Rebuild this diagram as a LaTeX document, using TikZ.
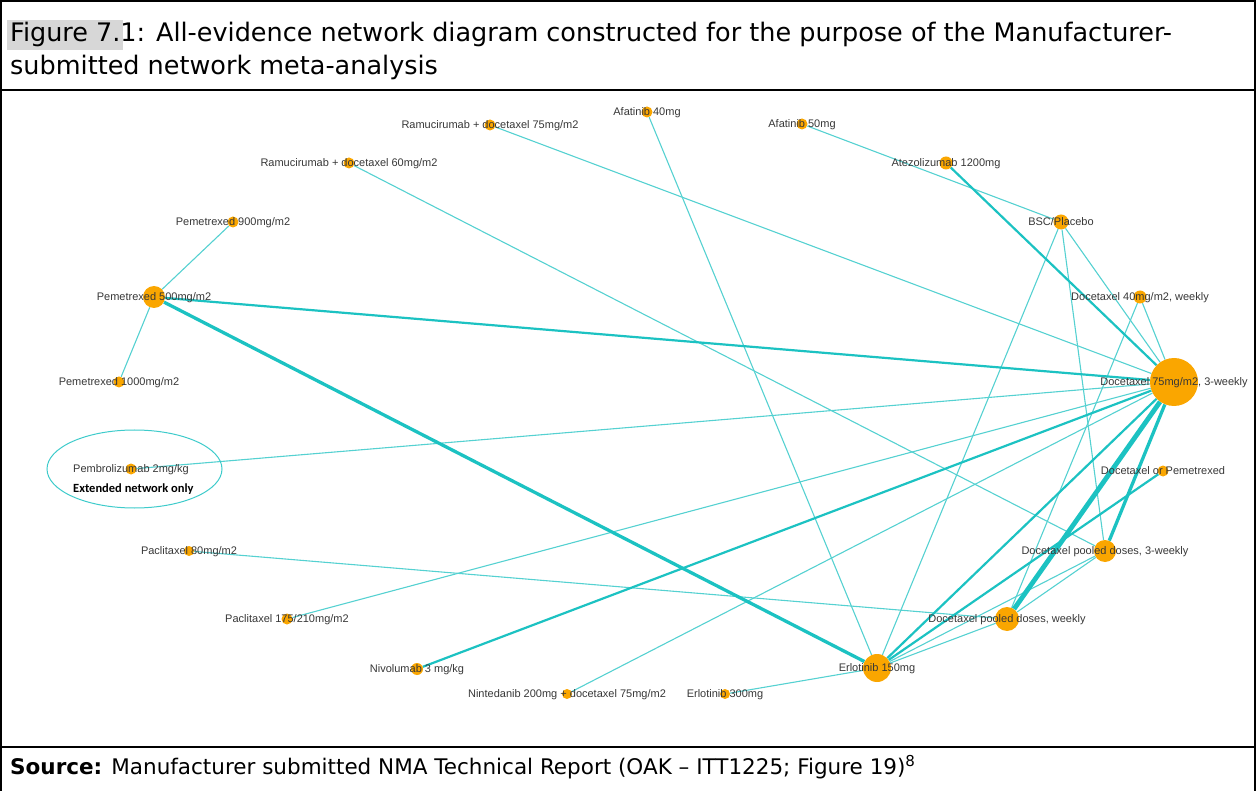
\documentclass[tikz,border=0pt]{standalone}
\usepackage{fontspec}
\setmainfont{DejaVu Sans}
\newfontfamily\arialfont{Liberation Sans}
\newfontfamily\calibrifont{Carlito}
\usetikzlibrary{backgrounds,shapes.geometric}

\definecolor{edgecol}{RGB}{28,194,194}
\definecolor{nodecol}{RGB}{250,166,0}
\definecolor{txtcol}{RGB}{55,55,55}
\definecolor{hlgray}{RGB}{215,215,215}

\begin{document}
\begin{tikzpicture}[x=1pt,y=-1pt,
  trt/.style={circle,fill=nodecol,inner sep=0pt},
  lbl/.style={font=\arialfont\fontsize{11}{13}\selectfont,text=txtcol,inner sep=0pt,text height=8pt,text depth=1pt},
  e1/.style={draw=edgecol!75,line width=1.1pt},
  e2/.style={draw=edgecol,line width=2.2pt},
  e3/.style={draw=edgecol,line width=3.3pt},
  e4/.style={draw=edgecol,line width=4.8pt},
  capt/.style={anchor=base west,inner sep=0pt,font=\fontsize{25.5}{33}\selectfont}]
\useasboundingbox (0,0) rectangle (1256,791);

% table frame
\draw[line width=2pt] (1,791) -- (1,1) -- (1255,1) -- (1255,791);
\draw[line width=2pt] (1,90) -- (1255,90);
\draw[line width=2.5pt] (1,747) -- (1255,747);
\node[capt] (title1) at (7,42)
	{{\setlength\fboxsep{3pt}\colorbox{hlgray}{Figure 7.}}\hspace{-3pt}1: All-evidence network diagram constructed for the purpose of the Manufacturer-};
\node[capt] (title2) at (10,75) {submitted network meta-analysis};
\node[anchor=base west,inner sep=0pt,font=\fontsize{21.5}{24}\selectfont] (src) at (10,774)
	{\textbf{Source:} Manufacturer submitted NMA Technical Report (OAK -- ITT1225; Figure 19)\textsuperscript{8}};

% treatments
\foreach \n/\x/\y/\r/\t in {
	pemA/233/222/5.5/{Pemetrexed 900mg/m2},
	pemB/154/297/11/{Pemetrexed 500mg/m2},
	pemC/119/382/5.5/{Pemetrexed 1000mg/m2},
	pembro/131/469/5.5/{Pembrolizumab 2mg/kg},
	pac80/189/551/5/{Paclitaxel 80mg/m2},
	pac175/287/619/5.5/{Paclitaxel 175/210mg/m2},
	nivo/417/669/6/{Nivolumab 3 mg/kg},
	ninte/567/694/5/{Nintedanib 200mg + docetaxel 75mg/m2},
	erl300/725/694/5/{Erlotinib 300mg},
	erl150/877/668/14/{Erlotinib 150mg},
	poolW/1007/619/12/{Docetaxel pooled doses, weekly},
	pool3/1105/551/11/{Docetaxel pooled doses, 3-weekly},
	docpem/1163/471/5.5/{Docetaxel or Pemetrexed},
	doc75/1174/382/24/{Docetaxel 75mg/m2, 3-weekly},
	doc40/1140/297/6.5/{Docetaxel 40mg/m2, weekly},
	bsc/1061/222/7.5/{BSC/Placebo},
	atezo/946/163/6.5/{Atezolizumab 1200mg},
	afa50/802/124/5.5/{Afatinib 50mg},
	afa40/647/112/5.5/{Afatinib 40mg},
	ramu75/490/125/5.5/{Ramucirumab + docetaxel 75mg/m2},
	ramu60/349/163/5.5/{Ramucirumab + docetaxel 60mg/m2}}{
	\node[trt,minimum size=2*\r] (\n) at (\x,\y) {};
	\node[lbl] (\n l) at (\x,\y) {\t};
}

% comparisons
\begin{pgfonlayer}{background}
\foreach \a/\b in {pemB/pemA,pemB/pemC,ramu75/doc75,ramu60/pool3,afa40/erl150,afa50/bsc,bsc/erl150,bsc/pool3,bsc/doc75,doc40/doc75,doc40/poolW,pembro/doc75,pac80/poolW,pac175/doc75,ninte/doc75,erl300/erl150,erl150/pool3,erl150/poolW,poolW/pool3}
	\draw[e1] (\a) -- (\b);
\foreach \a/\b in {pemB/doc75,atezo/doc75,nivo/doc75,erl150/doc75,erl150/docpem}
	\draw[e2] (\a) -- (\b);
\draw[e3] (pemB) -- (erl150);
\draw[e3] (doc75) -- (pool3);
\draw[e4] (doc75) -- (poolW);
\end{pgfonlayer}

% extended network
\node[ellipse,draw=edgecol!85,line width=1pt,minimum width=175,minimum height=78] (ext) at (134.5,469) {};
\node[anchor=base west,inner sep=0pt,font=\calibrifont\bfseries\fontsize{12.5}{14}\selectfont] (extl) at (73,492) {Extended network only};
\end{tikzpicture}
\end{document}
